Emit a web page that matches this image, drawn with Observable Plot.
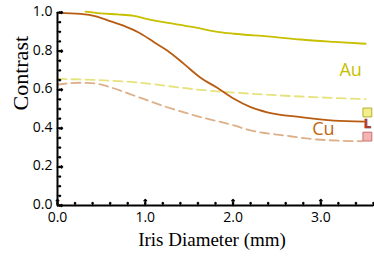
<!DOCTYPE html>
<html>
<head>
<meta charset="utf-8">
<script src="https://cdn.jsdelivr.net/npm/d3@7"></script>
<script src="https://cdn.jsdelivr.net/npm/@observablehq/plot@0.6"></script>
<style>
  html, body { margin: 0; padding: 0; background: #fff; }
</style>
</head>
<body>
<div id="chart"></div>
<script>
// Data
const auSolidX = [0.32, 0.49, 0.68, 0.87, 1.0, 1.14, 1.33, 1.55, 1.82, 2.01, 2.39, 2.77, 3.15, 3.51];
const auSolidY = [1.005, 0.996, 0.990, 0.983, 0.968, 0.955, 0.941, 0.924, 0.900, 0.890, 0.876, 0.860, 0.848, 0.838];

const cuSolidX = [0, 0.26, 0.45, 0.60, 0.79, 0.95, 1.10, 1.25, 1.44, 1.63, 1.82, 2.01, 2.20, 2.39, 2.77, 3.15, 3.49];
const cuSolidY = [0.998, 0.993, 0.979, 0.955, 0.924, 0.890, 0.846, 0.803, 0.734, 0.662, 0.610, 0.553, 0.510, 0.483, 0.458, 0.440, 0.435];

const auDashX = [0, 0.87, 1.63, 2.39, 3.51];
const auDashY = [0.656, 0.639, 0.599, 0.574, 0.551];

const cuDashX = [0, 0.26, 0.45, 0.60, 0.87, 1.25, 1.63, 2.01, 2.20, 2.58, 2.96, 3.47];
const cuDashY = [0.627, 0.636, 0.631, 0.613, 0.570, 0.509, 0.458, 0.415, 0.389, 0.363, 0.342, 0.333];

const xTickValues = [0, 1, 2, 3];
const yTickValues = [0, 0.2, 0.4, 0.6, 0.8, 1.0];
const xMinorTicks = d3.range(0, 3.61, 0.2);
const yMinorTicks = d3.range(0, 1.001, 0.05);

const seriesLabels = [
  {text: "Au", x: 3.34, y: 0.70, color: "#c8bf00"},
  {text: "Cu", x: 3.03, y: 0.397, color: "#c0640f"}
];

const markerX = 3.53;
const markerSquares = [
  {y: 0.482, fill: "#f2ee8c", stroke: "#b8ae30"},
  {y: 0.357, fill: "#f4b4b4", stroke: "#c87070"}
];
const markerL = [{y: 0.425}];

const xLabel = "Iris Diameter (mm)";
const yLabel = "Contrast";

const toPts = (xs, ys) => xs.map((x, i) => ({x, y: ys[i]}));

const sansFont = "'Open Sans', sans-serif";
const serifFont = "'Liberation Serif', 'DejaVu Serif', serif";

const chart = Plot.plot({
  width: 374,
  height: 260,
  marginLeft: 57,
  marginRight: 1,
  marginTop: 12,
  marginBottom: 55,
  x: {domain: [0, 3.6]},
  y: {domain: [0, 1]},
  style: {fontFamily: sansFont, background: "#fff"},
  marks: [
    // Curves
    Plot.line(toPts(auDashX, auDashY), {x: "x", y: "y", stroke: "#e6e27c", strokeWidth: 1.8, strokeDasharray: "9,5", curve: "monotone-x"}),
    Plot.line(toPts(cuDashX, cuDashY), {x: "x", y: "y", stroke: "#ddb08a", strokeWidth: 1.8, strokeDasharray: "9,5", curve: "monotone-x"}),
    Plot.line(toPts(auSolidX, auSolidY), {x: "x", y: "y", stroke: "#c8bf00", strokeWidth: 1.8, curve: "monotone-x"}),
    Plot.line(toPts(cuSolidX, cuSolidY), {x: "x", y: "y", stroke: "#b85c12", strokeWidth: 1.8, curve: "monotone-x"}),
    // Series labels
    Plot.text(seriesLabels, {x: "x", y: "y", text: "text", fill: "color", fontSize: 18, fontFamily: sansFont}),
    // Markers at the right end
    Plot.dot(markerSquares, {x: () => markerX, y: "y", symbol: "square", r: 5, fill: "fill", stroke: "stroke", strokeWidth: 1}),
    Plot.text(markerL, {x: () => markerX, y: "y", text: () => "L", fill: "#c03828", stroke: "#3a1a10", strokeWidth: 0.6, fontWeight: "bold", fontSize: 13, fontFamily: sansFont}),
    // Axis lines
    Plot.ruleY([0], {stroke: "#000", strokeWidth: 2}),
    Plot.ruleX([0], {stroke: "#000", strokeWidth: 2}),
    // Inward ticks
    Plot.vector(xMinorTicks, {x: d => d, y: () => 0, length: 3, rotate: 0, anchor: "start", stroke: "#000", strokeWidth: 1.5}),
    Plot.vector(xTickValues, {x: d => d, y: () => 0, length: 6, rotate: 0, anchor: "start", stroke: "#000", strokeWidth: 1.5}),
    Plot.vector(yMinorTicks, {x: () => 0, y: d => d, length: 3, rotate: 90, anchor: "start", stroke: "#000", strokeWidth: 1.5}),
    Plot.vector(yTickValues, {x: () => 0, y: d => d, length: 5, rotate: 90, anchor: "start", stroke: "#000", strokeWidth: 1.5}),
    // Tick labels
    Plot.axisX({ticks: xTickValues, tickFormat: d3.format(".1f"), tickSize: 0, tickPadding: 7, fontSize: 14, label: null}),
    Plot.axisY({ticks: yTickValues, tickFormat: d3.format(".1f"), tickSize: 0, tickPadding: 5, fontSize: 14, label: null, dy: -1}),
    // Axis titles
    Plot.text([yLabel], {frameAnchor: "left", text: d => d, rotate: -90, dx: -30, dy: 1.5, lineAnchor: "bottom", fontSize: 22, fontFamily: serifFont, fill: "#000"}),
    Plot.text([xLabel], {frameAnchor: "bottom", text: d => d, dx: -3.5, dy: 40, lineAnchor: "bottom", fontSize: 19, fontFamily: serifFont, fill: "#000"})
  ]
});

document.getElementById("chart").appendChild(chart);
</script>
</body>
</html>
